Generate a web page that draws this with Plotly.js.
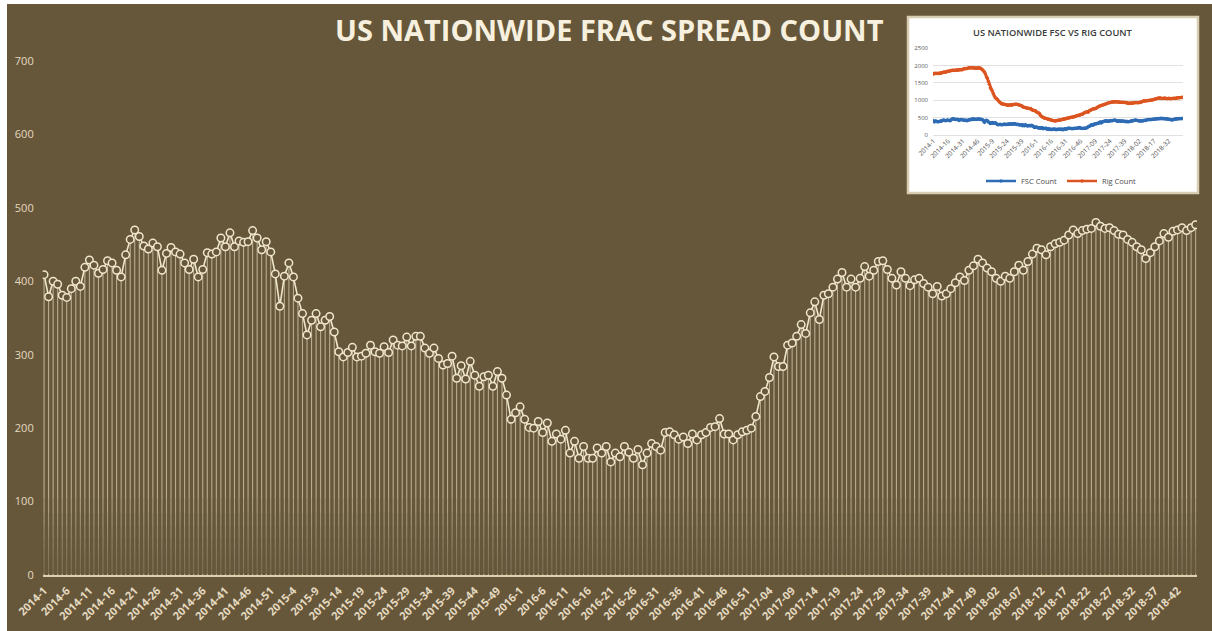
<!DOCTYPE html>
<html>
<head>
<meta charset="utf-8">
<script src="https://cdn.plot.ly/plotly-3.0.1.min.js"></script>
<style>
  html, body { margin: 0; padding: 0; background: #ffffff; }
  #chart { position: absolute; left: 7px; top: 4px; width: 1205px; height: 627px; }
</style>
</head>
<body>
<div id="chart"></div>
<script>
// Week labels: 2014-1 ... 2016-52, then zero-padded weeks from 2017 on
const years = [2014, 2015, 2016, 2017, 2018];
const weeksInYear = [52, 53, 52, 52, 46];
const paddedFrom = 2017;

// Weekly US frac spread count (FSC)
const fsc2014 = [409, 379, 400, 396, 381, 378, 390, 400, 393, 419,
                 429, 422, 411, 416, 428, 425, 415, 406, 436, 457,
                 470, 461, 448, 444, 452, 447, 415, 438, 446, 440,
                 437, 425, 416, 430, 406, 416, 439, 437, 440, 459,
                 447, 466, 447, 455, 453, 454, 469, 459, 443, 454,
                 440, 410];
const fsc2015 = [366, 407, 425, 406, 377, 356, 327, 347, 356, 338,
                 347, 352, 331, 304, 297, 303, 310, 297, 298, 302,
                 313, 304, 302, 311, 303, 320, 313, 312, 324, 312,
                 325, 325, 309, 302, 309, 295, 286, 288, 298, 268,
                 285, 267, 291, 272, 257, 270, 272, 257, 277, 268,
                 245, 212, 221];
const fsc2016 = [229, 212, 201, 200, 209, 194, 207, 182, 192, 185,
                 197, 166, 182, 159, 175, 159, 159, 173, 166, 175,
                 154, 166, 161, 175, 167, 159, 171, 150, 166, 179,
                 175, 170, 194, 195, 191, 185, 188, 179, 192, 184,
                 191, 194, 201, 202, 213, 192, 192, 184, 191, 195,
                 197, 200];
const fsc2017 = [216, 243, 250, 269, 297, 284, 284, 313, 316, 325,
                 341, 329, 357, 372, 348, 381, 383, 392, 403, 412,
                 392, 403, 392, 404, 420, 407, 415, 427, 428, 416,
                 404, 395, 413, 404, 394, 402, 404, 397, 392, 383,
                 393, 380, 383, 390, 398, 406, 401, 415, 421, 430,
                 425, 418];
const fsc2018 = [413, 404, 400, 407, 404, 413, 422, 415, 427, 437,
                 445, 443, 436, 447, 451, 453, 456, 463, 470, 465,
                 469, 471, 472, 480, 475, 472, 473, 469, 464, 463,
                 457, 453, 447, 443, 431, 439, 447, 455, 465, 460,
                 468, 470, 473, 469, 473, 477];

// Weekly US rig count (inset)
const rig2014 = [1754, 1771, 1769, 1774, 1765, 1769, 1779, 1769, 1779, 1796,
                 1803, 1809, 1803, 1809, 1835, 1831, 1835, 1848, 1857, 1861,
                 1858, 1857, 1861, 1861, 1865, 1863, 1875, 1876, 1875, 1876,
                 1882, 1904, 1908, 1907, 1910, 1916, 1930, 1931, 1931, 1929,
                 1930, 1925, 1926, 1920, 1925, 1917, 1929, 1927, 1920, 1893,
                 1875, 1840];
const rig2015 = [1811, 1750, 1676, 1633, 1543, 1456, 1358, 1310, 1267, 1192,
                 1125, 1069, 1048, 1028, 988, 954, 932, 905, 894, 888,
                 885, 875, 868, 859, 857, 859, 863, 866, 857, 876,
                 874, 884, 883, 885, 877, 864, 862, 848, 838, 809,
                 795, 787, 791, 775, 771, 771, 757, 760, 737, 709,
                 709, 700, 698];
const rig2016 = [664, 650, 637, 619, 571, 541, 514, 502, 489, 480,
                 476, 464, 450, 443, 440, 431, 420, 415, 406, 404,
                 408, 414, 421, 424, 431, 431, 447, 452, 462, 463,
                 464, 481, 489, 489, 497, 508, 510, 511, 522, 524,
                 539, 553, 557, 569, 568, 588, 593, 597, 624, 637,
                 653, 658];
const rig2017 = [665, 659, 694, 712, 729, 741, 751, 754, 756, 768,
                 789, 809, 824, 839, 847, 857, 870, 877, 885, 901,
                 908, 916, 927, 933, 941, 940, 952, 952, 950, 958,
                 954, 949, 946, 940, 943, 944, 936, 940, 935, 936,
                 928, 913, 909, 907, 915, 923, 915, 923, 931, 930,
                 931, 929];
const rig2018 = [924, 939, 936, 947, 966, 975, 978, 980, 981, 984,
                 990, 995, 993, 1003, 1008, 1012, 1021, 1032, 1045, 1046,
                 1059, 1060, 1062, 1059, 1052, 1052, 1054, 1063, 1050, 1048,
                 1044, 1057, 1047, 1044, 1048, 1048, 1053, 1054, 1052, 1063,
                 1067, 1068, 1067, 1075, 1081, 1082];

const weeks = [];
years.forEach((yr, k) => {
  for (let w = 1; w <= weeksInYear[k]; w++) {
    weeks.push(yr + '-' + (yr >= paddedFrom && w < 10 ? '0' + w : String(w)));
  }
});
const fsc = [].concat(fsc2014, fsc2015, fsc2016, fsc2017, fsc2018);
const rig = [].concat(rig2014, rig2015, rig2016, rig2017, rig2018);

const mainTicks = weeks.filter((_, i) => i % 5 === 0);
const insetTicks = weeks.filter((_, i) => i % 15 === 0);

const BG = '#67573a';
const CREAM = '#efe6cc';
const LABEL = '#e4dac1';
const W = 1205, H = 627;
const mainDomainX = [35.7 / W, 1190 / W];

// Thin drop line from every point down to the axis
const stems = {
  type: 'bar',
  x: weeks,
  y: fsc,
  width: 0.24,
  marker: { color: 'rgba(238,228,200,0.62)', line: { width: 0 } },
  hoverinfo: 'skip',
  showlegend: false,
  xaxis: 'x', yaxis: 'y'
};

const mainLine = {
  type: 'scatter',
  mode: 'lines+markers',
  x: weeks,
  y: fsc,
  line: { color: CREAM, width: 1.6 },
  marker: { symbol: 'circle', size: 7.5, color: BG, line: { color: CREAM, width: 1.5 } },
  showlegend: false,
  xaxis: 'x', yaxis: 'y'
};

const insetFsc = {
  type: 'scatter',
  mode: 'lines+markers',
  name: 'FSC Count',
  x: weeks,
  y: fsc,
  line: { color: '#2e6cb5', width: 2.6 },
  marker: { size: 3.5, color: '#2e6cb5' },
  xaxis: 'x2', yaxis: 'y2'
};
const insetRig = {
  type: 'scatter',
  mode: 'lines+markers',
  name: 'Rig Count',
  x: weeks,
  y: rig,
  line: { color: '#dc5520', width: 2.6 },
  marker: { size: 3.5, color: '#dc5520' },
  xaxis: 'x2', yaxis: 'y2'
};

// Drop lines fade out toward the axis: translucent background-coloured
// layers stacked over the lower part of the plot
const fadeTops = [10, 22, 36, 50, 66, 84, 105];
const fadeShapes = fadeTops.map(top => ({
  type: 'rect',
  xref: 'paper', yref: 'y',
  x0: mainDomainX[0], x1: mainDomainX[1],
  y0: 1.6, y1: top,
  fillcolor: 'rgba(103,87,58,0.15)',
  line: { width: 0 },
  layer: 'above'
}));

const layout = {
  width: W,
  height: H,
  margin: { l: 0, r: 0, t: 0, b: 0 },
  paper_bgcolor: BG,
  plot_bgcolor: 'rgba(0,0,0,0)',
  font: { family: 'Open Sans, sans-serif' },
  xaxis: {
    type: 'category',
    domain: mainDomainX,
    range: [-0.3, weeks.length - 0.7],
    tickmode: 'array',
    tickvals: mainTicks,
    ticktext: mainTicks,
    tickangle: -45,
    tickfont: { size: 11, color: LABEL, weight: 700 },
    showgrid: false,
    zeroline: false,
    showline: true,
    linecolor: '#ddd0ae',
    linewidth: 2,
    ticks: '',
    ticklabelstandoff: 3,
    anchor: 'y'
  },
  yaxis: {
    domain: [1 - 571 / H, 1 - 57 / H],
    range: [0, 700],
    dtick: 100,
    tickfont: { size: 11, color: LABEL },
    showgrid: false,
    zeroline: false,
    showline: false,
    ticks: '',
    ticklabelstandoff: 8,
    anchor: 'x'
  },
  xaxis2: {
    type: 'category',
    domain: [926 / W, 1176 / W],
    range: [-0.5, weeks.length - 0.5],
    tickmode: 'array',
    tickvals: insetTicks,
    ticktext: insetTicks,
    tickangle: -45,
    tickfont: { size: 6.5, color: '#4d4d4d' },
    showgrid: false,
    zeroline: false,
    showline: false,
    ticks: '',
    anchor: 'y2'
  },
  yaxis2: {
    domain: [1 - 131 / H, 1 - 44 / H],
    range: [0, 2500],
    dtick: 500,
    tickfont: { size: 6, color: '#595959' },
    gridcolor: '#d9d9d9',
    gridwidth: 0.8,
    zeroline: true,
    zerolinecolor: '#d9d9d9',
    zerolinewidth: 0.8,
    showline: false,
    ticks: '',
    ticklabelstandoff: 4,
    anchor: 'x2'
  },
  showlegend: true,
  legend: {
    orientation: 'h',
    x: 1055 / W,
    xanchor: 'center',
    y: 1 - 177 / H,
    yanchor: 'middle',
    font: { size: 7.5, color: '#4d4d4d' },
    bgcolor: 'rgba(0,0,0,0)',
    itemwidth: 30,
    entrywidth: 36,
    tracegroupgap: 0
  },
  shapes: [{
    type: 'rect',
    xref: 'paper', yref: 'paper',
    x0: 901 / W, x1: 1191 / W,
    y0: 1 - 189 / H, y1: 1 - 13 / H,
    fillcolor: '#ffffff',
    line: { color: '#d8cdb2', width: 2.5 },
    layer: 'below'
  }].concat(fadeShapes),
  annotations: [
    {
      text: 'US NATIONWIDE FRAC SPREAD COUNT',
      xref: 'paper', yref: 'paper',
      x: 602 / W, y: 1 - 25 / H,
      xanchor: 'center', yanchor: 'middle',
      showarrow: false,
      font: { family: 'Open Sans, sans-serif', size: 29, weight: 700, color: '#f7f0de' }
    },
    {
      text: 'US NATIONWIDE FSC VS RIG COUNT',
      xref: 'paper', yref: 'paper',
      x: 1046 / W, y: 1 - 28.5 / H,
      xanchor: 'center', yanchor: 'middle',
      showarrow: false,
      font: { family: 'Open Sans, sans-serif', size: 9.3, weight: 600, color: '#3a3a3a' }
    }
  ]
};

Plotly.newPlot('chart', [stems, mainLine, insetFsc, insetRig], layout,
  { displayModeBar: false, staticPlot: true });
</script>
</body>
</html>
